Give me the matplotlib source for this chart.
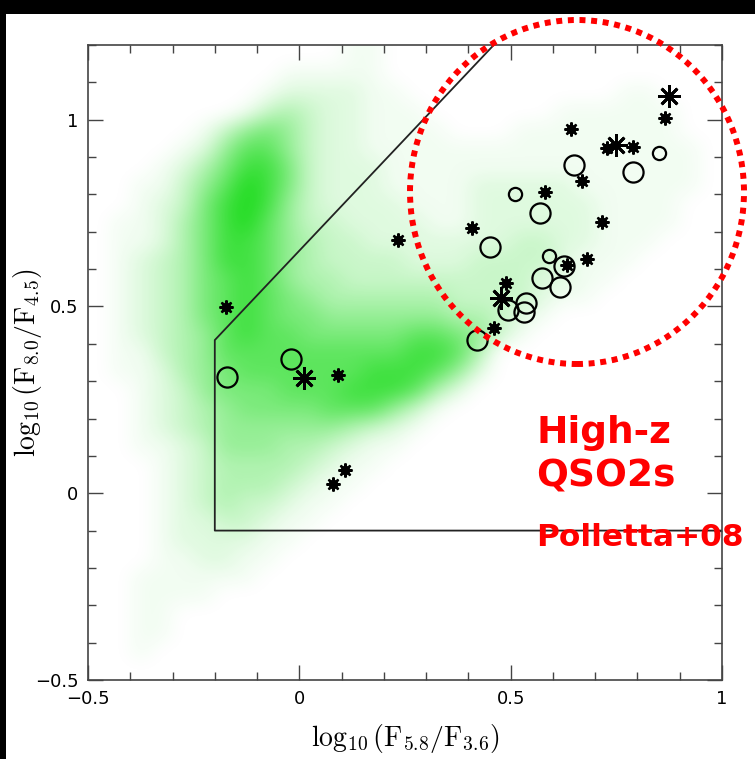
import numpy as np
import matplotlib
matplotlib.use("Agg")
import matplotlib.pyplot as plt
from matplotlib.colors import LinearSegmentedColormap, PowerNorm
from matplotlib.patches import Ellipse, Rectangle

plt.rcParams['mathtext.fontset'] = 'cm'

# green source cloud, read by eye as a density level (0-9) per 0.05 x 0.05 cell
# rows go from y=1.2 (top) down to y=-0.5, columns from x=-0.5 to x=1.0
cloud_rows = [
    "000000000000110",
    "000000000111110",
    "000000001222211000000000011",
    "000000013432211100000011111100",
    "000001356532211110001111111100",
    "000012577532211111111111111110",
    "000124688632221111111111111110",
    "001135798632221111222221111110",
    "001236898532222111222222111100",
    "011246897533222211222222111100",
    "0112468875433222222233221110",
    "0123468875433332223333211100",
    "012346787544333333333221100",
    "012346787654444443333211",
    "0123467876655555544321",
    "012345787766666776531",
    "0113457777777778874",
    "0112456777777888752",
    "001235666777888742",
    "00123456666777531",
    "0012345555554321",
    "001123555443211",
    "00012344443211",
    "0001234443211",
    "000123433211",
    "00012233211",
    "0001222211",
    "000112211",
    "00111111",
    "001111",
    "0011",
    "0011",
    "001",
    "0",
]

# open circles (two sizes)
big_circle_x = [-0.17, -0.02, 0.42, 0.45, 0.57, 0.65, 0.79, 0.625, 0.573, 0.617, 0.536, 0.494, 0.532]
big_circle_y = [0.31, 0.36, 0.41, 0.66, 0.75, 0.88, 0.86, 0.608, 0.577, 0.552, 0.510, 0.490, 0.485]
small_circle_x = [0.51, 0.85, 0.591]
small_circle_y = [0.80, 0.91, 0.634]

# small filled stars
star_x = [-0.174, 0.091, 0.109, 0.080, 0.233, 0.642, 0.866, 0.729, 0.790, 0.668,
          0.581, 0.409, 0.715, 0.680, 0.634, 0.490, 0.460]
star_y = [0.498, 0.317, 0.063, 0.025, 0.678, 0.974, 1.005, 0.925, 0.927, 0.836,
          0.807, 0.709, 0.725, 0.626, 0.610, 0.564, 0.443]

# big open asterisks
ast_x = [0.010, 0.476, 0.749, 0.875]
ast_y = [0.309, 0.524, 0.932, 1.064]

# AGN selection wedge
wedge_x = [1.0, -0.2, -0.2, 0.46]
wedge_y = [-0.1, -0.1, 0.41, 1.2]

xticks_major = [-0.5, 0, 0.5, 1]
xtick_labels = ['\u22120.5', '0', '0.5', '1']
yticks_major = [-0.5, 0, 0.5, 1]
ytick_labels = ['\u22120.5', '0', '0.5', '1']

fig = plt.figure(figsize=(7.55, 7.59), dpi=100, facecolor='black')
fig.add_artist(Rectangle((6 / 755, 0), 1, 1 - 14 / 759, transform=fig.transFigure,
                         facecolor='white', edgecolor='none', zorder=-10))
ax = fig.add_axes([88 / 755, 1 - 680 / 759, 634 / 755, 635 / 759])
ax.set_facecolor('white')

density = np.array([[int(ch) for ch in row.ljust(30, '0')] for row in cloud_rows], dtype=float)
cmap = LinearSegmentedColormap.from_list('cloud', ['#ffffff', '#1fdc1f'])
ax.imshow(density, extent=(-0.5, 1.0, -0.5, 1.2), origin='upper', cmap=cmap,
          norm=PowerNorm(gamma=1.3, vmin=0, vmax=9), interpolation='bicubic',
          aspect='auto', zorder=1)

ax.plot(wedge_x, wedge_y, color='#222222', lw=1.3, zorder=2)

ax.plot(big_circle_x, big_circle_y, 'o', ms=14.5, mfc='none', mec='black', mew=1.6, zorder=3)
ax.plot(small_circle_x, small_circle_y, 'o', ms=9.5, mfc='none', mec='black', mew=1.6, zorder=3)
ax.plot(star_x, star_y, 'o', ms=6.5, mfc='black', mec='black', mew=0.5, zorder=3)
ax.plot(star_x, star_y, marker=(8, 2, 0), ls='none', ms=10, mec='black', mew=1.7, zorder=3)
ax.plot(ast_x, ast_y, marker=(8, 2, 0), ls='none', ms=16, mec='black', mew=2.0, zorder=3)

ax.set_xlim(-0.5, 1.0)
ax.set_ylim(-0.5, 1.2)
ax.set_xticks(xticks_major)
ax.set_xticklabels(xtick_labels)
ax.set_yticks(yticks_major)
ax.set_yticklabels(ytick_labels)
ax.set_xticks(np.arange(-0.5, 1.01, 0.1), minor=True)
ax.set_yticks(np.arange(-0.5, 1.21, 0.1), minor=True)
ax.tick_params(which='both', direction='in', top=True, right=True, color='#444444', width=1.0)
ax.tick_params(which='major', length=11, labelsize=13, pad=7)
ax.tick_params(which='minor', length=6)
for s in ax.spines.values():
    s.set_color('#444444')
    s.set_linewidth(1.2)

ax.set_xlabel(r'$\log_{10}(\mathrm{F}_{5.8}/\mathrm{F}_{3.6})$', fontsize=20, labelpad=10)
ax.set_ylabel(r'$\log_{10}(\mathrm{F}_{8.0}/\mathrm{F}_{4.5})$', fontsize=20)
ax.yaxis.set_label_coords(-0.069, 0.5)

# red dotted circle around the high-z QSO2s
fig.add_artist(Ellipse((577 / 755, 1 - 192 / 759), 334 / 755, 344 / 759,
                       transform=fig.transFigure, facecolor='none', edgecolor='#ff0000',
                       lw=4.3, linestyle=(0, (1.0, 0.95)), zorder=5))

fig.text(536 / 755, 1 - 443 / 759, 'High-z', color='#ff0000', fontsize=27,
         fontweight='bold', family='DejaVu Sans', ha='left', va='baseline')
fig.text(536 / 755, 1 - 486 / 759, 'QSO2s', color='#ff0000', fontsize=27,
         fontweight='bold', family='DejaVu Sans', ha='left', va='baseline')
fig.text(536 / 755, 1 - 546 / 759, 'Polletta+08', color='#ff0000', fontsize=22.5,
         fontweight='bold', family='DejaVu Sans', ha='left', va='baseline')

fig.savefig('out.png', dpi=100, facecolor=fig.get_facecolor())
